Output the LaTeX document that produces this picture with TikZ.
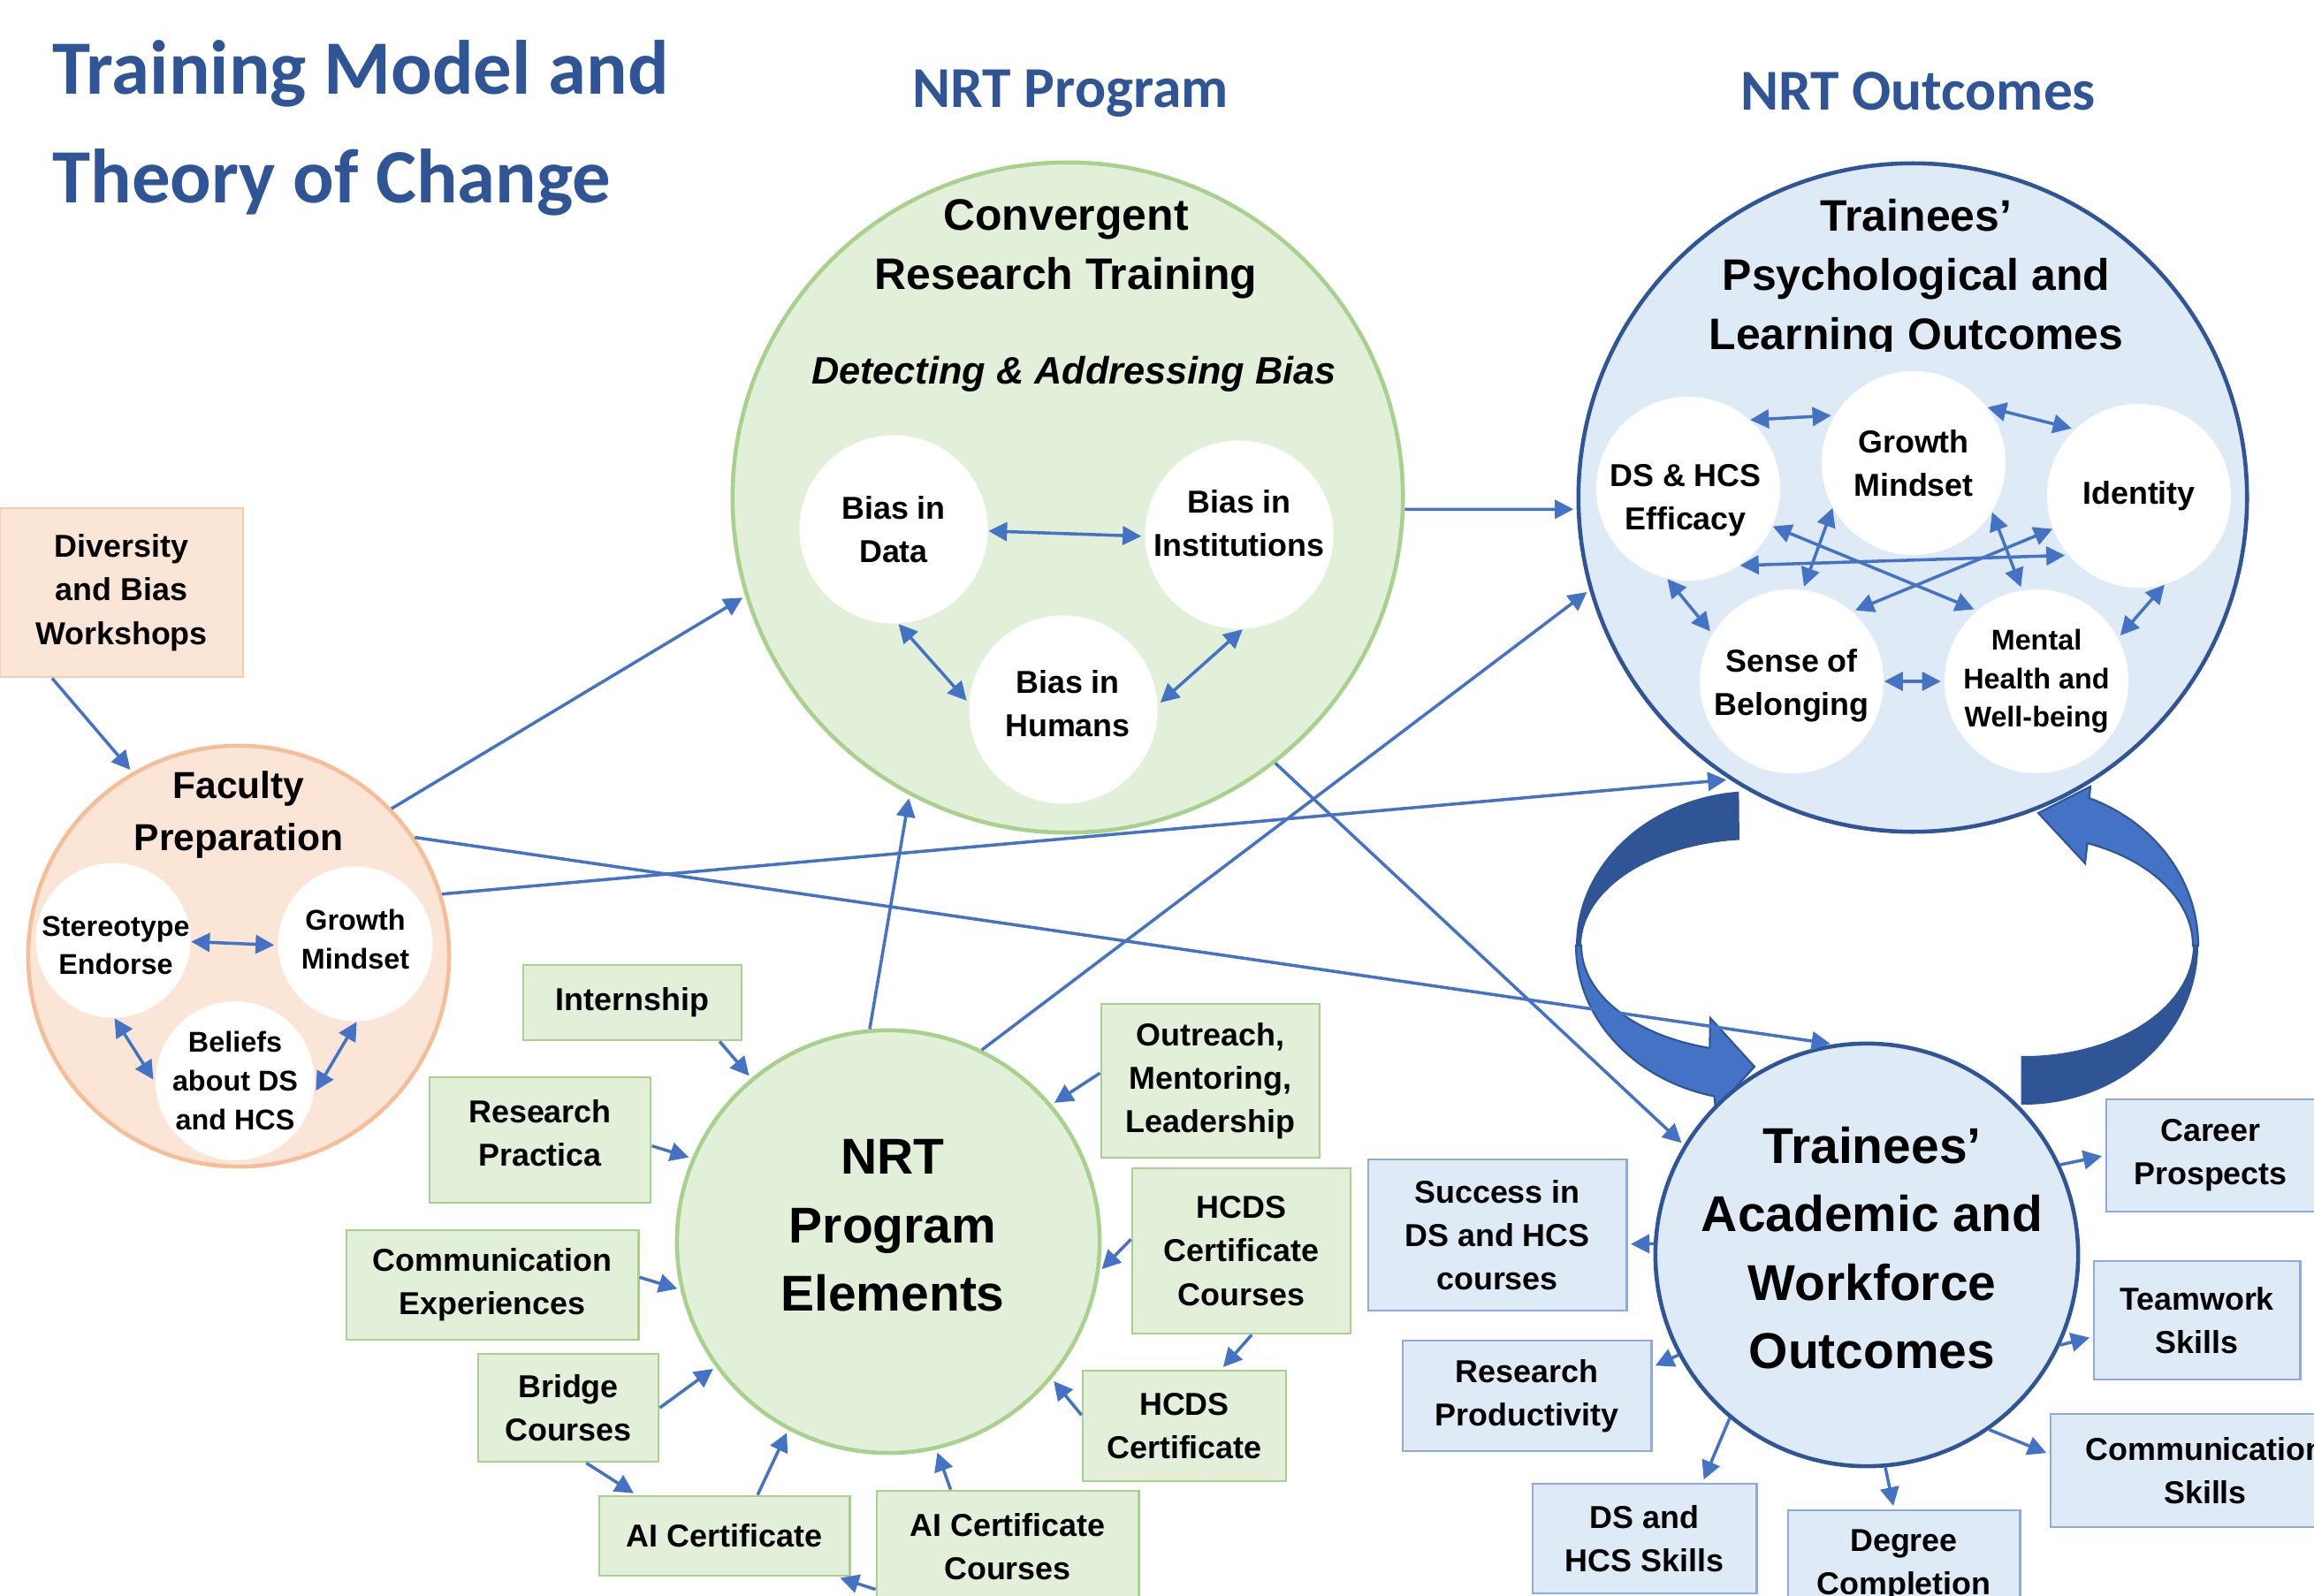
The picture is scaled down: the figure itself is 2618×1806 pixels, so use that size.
\documentclass[tikz,border=0pt]{standalone}
\usepackage{fontspec}
\setmainfont{Liberation Sans}
\newfontfamily\headfont{Carlito}
\usetikzlibrary{arrows.meta}

\definecolor{titleblue}{HTML}{2F5597}
\definecolor{arrowblue}{HTML}{4472C4}
\definecolor{lightgreen}{HTML}{E2F0D9}
\definecolor{edgegreen}{HTML}{A9D18E}
\definecolor{lightpeach}{HTML}{FBE5D6}
\definecolor{edgepeach}{HTML}{F6BE98}
\definecolor{boxpeach}{HTML}{F8CBAD}
\definecolor{lightblue}{HTML}{DEEBF7}
\definecolor{edgeblue}{HTML}{8FAADC}

\begin{document}
\begin{tikzpicture}[x=0.01cm, y=-0.01cm, shorten >=1pt, >={Triangle[length=6pt, width=6pt]},
  every edge/.style={draw=arrowblue, line width=1pt},
  bigcircle/.style={circle, inner sep=0pt, line width=1.3pt},
  bubble/.style={circle, fill=white, inner sep=0pt, align=center, minimum size=2.08cm,
    font=\fontsize{10.2}{14}\selectfont\bfseries},
  smallbubble/.style={bubble, minimum size=1.75cm, font=\fontsize{9.2}{12.4}\selectfont\bfseries},
  bubbletext/.style={align=center, font=\fontsize{10.2}{14}\selectfont\bfseries},
  smalltext/.style={align=center, font=\fontsize{9.2}{12.4}\selectfont\bfseries},
  box/.style={rectangle, inner sep=0pt, align=center, line width=0.8pt,
    font=\fontsize{10.2}{14}\selectfont\bfseries},
  greenbox/.style={box, draw=edgegreen, fill=lightgreen},
  bluebox/.style={box, draw=edgeblue, fill=lightblue},
  heading/.style={align=center, font=\fontsize{14.2}{19}\selectfont\bfseries},
  bigheading/.style={align=center, font=\fontsize{16.2}{22}\selectfont\bfseries},
  titletext/.style={text=titleblue, font=\headfont\fontsize{24.7}{30}\selectfont\bfseries},
  headtext/.style={text=titleblue, font=\headfont\fontsize{18.6}{22}\selectfont\bfseries}]

  \useasboundingbox (0,0) rectangle (2618,1806);
  \clip (0,0) rectangle (2618,1806);
  \fill[white] (0,0) rectangle (2618,1806);

  % Titles
  \node[titletext, anchor=base west] (title) at (47,107) {Training Model and};
  \node[titletext, anchor=base west] (title2) at (47,230) {Theory of Change};
  \node[headtext, anchor=base] (progtitle) at (1211,122) {NRT Program};
  \node[headtext, anchor=base] (outtitle) at (2170,125) {NRT Outcomes};

  % Cycle arrows between the two outcome circles
  \fill[titleblue, shorten >=0pt] plot[domain=265:180, samples=40] ({1985+202*cos(\x)},{1070+175*sin(\x)})
    -- plot[domain=180:265, samples=40] ({1985+196*cos(\x)},{1070+120*sin(\x)}) -- cycle;
  \filldraw[fill=arrowblue, draw=titleblue, line width=0.6pt, shorten >=0pt]
    plot[domain=180:103, samples=40] ({1985+202*cos(\x)},{1070+175*sin(\x)})
    -- (1941,1255) -- (1985,1207) -- (1935,1152)
    -- plot[domain=105:180, samples=40] ({1985+196*cos(\x)},{1070+120*sin(\x)}) -- cycle;
  \filldraw[fill=arrowblue, draw=titleblue, line width=0.6pt, shorten >=0pt]
    (2359,977) -- (2306,920) -- (2365,890)
    -- plot[domain=292:360, samples=40] ({2290+197*cos(\x)},{1070+180*sin(\x)})
    -- plot[domain=360:292, samples=40] ({2290+191*cos(\x)},{1070+125*sin(\x)}) -- cycle;
  \fill[titleblue, shorten >=0pt] plot[domain=0:91, samples=40] ({2290+197*cos(\x)},{1070+180*sin(\x)})
    -- plot[domain=91:0, samples=40] ({2290+191*cos(\x)},{1070+125*sin(\x)}) -- cycle;

  % Big circles
  \node[bigcircle, draw=edgegreen, fill=lightgreen, minimum size=7.58cm] (conv) at (1208,563) {};
  \node[bigcircle, draw=titleblue, fill=lightblue, minimum size=7.56cm] (psych) at (2164,563) {};
  \node[bigcircle, draw=edgepeach, fill=lightpeach, minimum size=4.76cm] (fac) at (270,1082) {};
  \node[bigcircle, draw=edgegreen, fill=lightgreen, minimum size=4.78cm] (nrt) at (1005,1405) {};
  \node[bigcircle, draw=titleblue, fill=lightblue, minimum size=4.78cm] (acad) at (2112,1420) {};

  % Circle headings
  \node[heading] (convlabel) at (1206,282) {Convergent\\Research Training};
  \node[font=\fontsize{12.3}{15}\selectfont\bfseries\itshape] (convsub) at (1215,423) {Detecting \& Addressing Bias};
  \begin{scope}
    \clip (1700,150) rectangle (2600,397); % heading is cut under its last line
    \node[heading] (psychlabel) at (2168,316) {Trainees’\\Psychological and\\Learning Outcomes};
  \end{scope}
  \node[align=center, font=\fontsize{12.1}{16.5}\selectfont\bfseries] (faclabel) at (270,922) {Faculty\\Preparation};
  \node[bigheading] (nrtlabel) at (1010,1387) {NRT\\Program\\Elements};
  \node[bigheading] (acadlabel) at (2118,1412) {Trainees’\\Academic and\\Workforce\\Outcomes};

  % Inner circles
  \node[bubble, minimum size=2.13cm] (data) at (1011,599) {Bias in\\Data};
  \node[bubble, minimum size=2.13cm] (inst) at (1402,605) {};
  \node[bubbletext] (insttext) at (1402,592) {Bias in\\Institutions};
  \node[bubble, minimum size=2.13cm] (hum) at (1203,803) {};
  \node[bubbletext] (humtext) at (1208,796) {Bias in\\Humans};

  \node[bubble] (eff) at (1910,553) {};
  \node[bubbletext] (efftext) at (1907,566) {DS \& HCS\\Efficacy};
  \node[bubble] (gm) at (2165,524) {Growth\\Mindset};
  \node[bubble] (id) at (2420,561) {Identity};
  \node[bubble] (sb) at (2027,771) {};
  \node[bubbletext] (sbtext) at (2027,776) {Sense of\\Belonging};
  \node[bubble, font=\fontsize{9.2}{12.4}\selectfont\bfseries] (mh) at (2304,771) {Mental\\Health and\\Well-being};

  \node[smallbubble] (stereo) at (128,1064) {};
  \node[smalltext] (stereotext) at (131,1070) {Stereotype\\Endorse};
  \node[smallbubble] (fgm) at (402,1068) {};
  \node[smalltext] (fgmtext) at (402,1063) {Growth\\Mindset};
  \node[smallbubble] (bel) at (266,1223) {Beliefs\\about DS\\and HCS};

  % Boxes
  \node[box, draw=boxpeach, fill=lightpeach, minimum width=2.75cm, minimum height=1.91cm] (div) at (137.5,670.5) {Diversity\\and Bias\\Workshops};

  \node[greenbox, minimum width=2.47cm, minimum height=0.85cm] (intern) at (715.5,1134.5) {Internship};
  \node[greenbox, minimum width=2.50cm, minimum height=1.42cm] (practica) at (611,1290) {};
  \node[bubbletext] (practicatext) at (611,1282) {Research\\Practica};
  \node[greenbox, minimum width=3.30cm, minimum height=1.24cm] (commexp) at (557,1454) {Communication\\Experiences};
  \node[greenbox, minimum width=2.04cm, minimum height=1.22cm] (bridge) at (643,1593) {Bridge\\Courses};
  \node[greenbox, minimum width=2.83cm, minimum height=0.90cm] (aicert) at (819.5,1738) {AI Certificate};
  \node[greenbox, minimum width=2.96cm, minimum height=1.26cm] (aicourses) at (1140,1750) {AI Certificate\\Courses};
  \node[greenbox, minimum width=2.30cm, minimum height=1.25cm] (hcdscert) at (1340,1613.5) {HCDS\\Certificate};
  \node[greenbox, minimum width=2.47cm, minimum height=1.87cm] (hcdscourses) at (1404.5,1415.5) {HCDS\\Certificate\\Courses};
  \node[greenbox, minimum width=2.47cm, minimum height=1.74cm] (outreach) at (1369.5,1223) {Outreach,\\Mentoring,\\Leadership};

  \node[bluebox, minimum width=2.92cm, minimum height=1.71cm] (success) at (1694,1397.5) {Success in\\DS and HCS\\courses};
  \node[bluebox, minimum width=2.81cm, minimum height=1.25cm] (resprod) at (1727.5,1579.5) {Research\\Productivity};
  \node[bluebox, minimum width=2.53cm, minimum height=1.24cm] (dsskills) at (1860.5,1741) {DS and\\HCS Skills};
  \node[bluebox, minimum width=2.62cm, minimum height=1.24cm] (degree) at (2154,1771) {Degree\\Completion};
  \node[bluebox, minimum width=3.50cm, minimum height=1.28cm] (commskills) at (2495,1664) {Communication\\Skills};
  \node[bluebox, minimum width=2.33cm, minimum height=1.34cm] (teamwork) at (2485.5,1494) {Teamwork\\Skills};
  \node[bluebox, minimum width=2.36cm, minimum height=1.27cm] (career) at (2501,1307.5) {Career\\Prospects};

  % Faculty preparation
  \path[->]
    (div.231) edge (fac.120)
    (fac.44) edge (conv.197)      % to research training
    (fac.34) edge (acad.99)       % to academic outcomes
    (fac.17) edge (psych.237);    % to psychological outcomes
  \path[<->]
    (stereo.-1) edge (fgm.181)
    (stereo.-89) edge (bel.181)
    (fgm.-89) edge (bel.-9);

  % Bias circles
  \path[<->]
    (data.-1) edge (inst.181)
    (data.-87) edge (hum.176)
    (inst.-88) edge (hum.3);

  % Psychological outcomes
  \path[<->]
    (eff.48) edge (gm.149)
    (gm.37) edge (id.134)
    (eff.-24) edge (mh.130)
    (gm.209) edge (sb.83)
    (id.201) edge (sb.49)
    (eff.-56) edge (id.220)
    (gm.-32) edge (mh.99)
    (eff.-103) edge (sb.149)
    (sb.0) edge (mh.180)
    (id.-74) edge (mh.28);

  % Program elements
  \path[->]
    (intern.-24) edge (nrt.130)
    (practica.-3) edge (nrt.157)
    (commexp.3) edge (nrt.193)
    (bridge.0) edge (nrt.216)
    (bridge.-72) edge (aicert.155)
    (aicert.51) edge (nrt.242)
    (aicourses.135) edge (nrt.283)
    (aicourses.198) edge (aicert.-20)
    (hcdscert.174) edge (nrt.320)
    (hcdscourses.-83) edge (hcdscert.57)
    (hcdscourses.174) edge (nrt.352)
    (outreach.176) edge (nrt.40)
    (nrt.95) edge (conv.242)
    (nrt.64) edge (psych.196)
    (conv.-52) edge (acad.149)
    (conv.-2) edge (psych.182);

  % Academic and workforce outcomes
  \path[->]
    (acad.177) edge (success.-4)
    (acad.208) edge (resprod.13)
    (acad.230) edge (dsskills.44)
    (acad.275) edge (degree.100)
    (acad.-55) edge (commskills.174)
    (acad.-25) edge (teamwork.189)
    (acad.25) edge (career.180);

\end{tikzpicture}
\end{document}
